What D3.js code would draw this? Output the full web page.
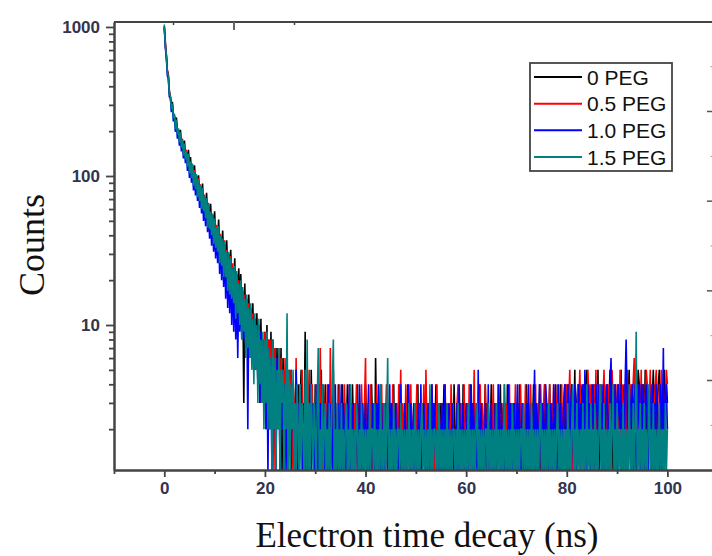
<!DOCTYPE html>
<html><head><meta charset="utf-8">
<script src="https://cdn.jsdelivr.net/npm/d3@7"></script>
<style>body{margin:0;background:#fff}svg{display:block}</style>
</head><body>
<svg id="chart" width="712" height="556"></svg>
<script>
// ---------------- data ----------------
const timeStepNs = 0.2; // channel width (ns); channel i is at time i*timeStepNs
const seriesNames = ["0 PEG", "0.5 PEG", "1.0 PEG", "1.5 PEG"];
const seriesColors = ["#000000", "#ff0000", "#0000ff", "#008080"];
const xMajorTicks = [0, 20, 40, 60, 80, 100];
const xMinorTicks = [-10, 10, 30, 50, 70, 90, 110];
const yMajorTicks = [10, 100, 1000];
const yMinorTicks = [2,3,4,5,6,7,8,9,20,30,40,50,60,70,80,90,200,300,400,500,600,700,800,900];

const counts0PEG = [
990,800,650,515,480,375,340,300,315,258,255,222,247,203,205,182,204,166,172,150,173,141,145,127,150,
114,134,107,118,96,118,89,100,82,101,76,84,70,89,63,72,59,77,54,64,50,65,47,55,42,
58,39,44,36,51,33,39,30,43,28,35,26,37,24,30,22,32,20,24,18,28,16,22,15,24,
13,22,12,17,3,19,10,15,9,16,8,13,7,14,6,11,6,12,5,10,3,11,4,8,4,
9,3,10,4,8,3,9,2,8,3,7,2,7,3,6,2,7,1,6,3,5,2,6,1,5,
3,5,2,4,1,3,5,1,4,2,3,5,1,3,2,9,1,4,2,3,1,5,2,3,1,
4,2,3,1,4,2,5,1,3,2,4,1,3,2,4,1,3,2,5,1,3,2,1,4,2,
3,1,4,2,1,3,2,4,1,3,2,1,4,2,3,1,2,4,1,3,2,1,3,2,1,
4,2,1,3,2,1,4,2,3,1,6,2,1,3,2,4,1,2,3,1,2,4,1,3,2,
1,3,2,4,1,2,3,1,2,4,1,3,2,1,3,2,1,4,2,1,3,2,1,2,3,
1,2,4,1,3,2,1,2,3,1,4,2,1,3,2,1,2,3,1,2,4,1,3,1,2,
3,1,2,4,1,3,2,1,2,3,1,2,1,4,2,1,3,2,1,3,2,1,4,1,2,
3,1,2,1,4,2,3,1,2,1,3,2,1,4,1,2,3,1,2,4,1,3,2,1,2,
4,1,2,3,1,2,1,3,2,4,1,2,3,1,2,1,4,2,1,3,2,1,3,2,1,
3,2,1,4,2,1,3,2,1,2,4,1,3,2,1,3,2,4,1,2,3,1,2,4,1,
3,2,1,4,2,3,1,2,4,1,3,2,1,3,4,1,2,3,1,4,2,1,3,2,4,
1,3,4,2,1,4,3,2,5,1,3,4,2,1,4,3,2,4,1,3,5,2,4,1,3,
4,2,1,4,3,2,5,1,3,4,2,1,4,3,2,4,1,3,5,2,4,1,3,4,2,
1,4,3,2,5,1,3,4,2,1,4,3,5,2,1,4,3,2,4,1,3,5,4,2,1,
4,3,2,5,1,4,3,2,4,1,3,5,2,4,1,3,4,5,2,1,4,3,5,2,4,
3];

const counts05PEG = [
1000,770,640,505,462,360,338,290,300,250,255,212,232,196,204,172,190,160,178,142,160,133,150,120,138,
108,122,100,118,90,110,85,100,76,97,70,88,63,80,60,75,55,69,48,66,46,58,43,54,38,
50,35,47,32,44,28,41,27,36,23,37,22,32,19,29,18,29,16,26,15,23,13,22,13,20,
11,19,9,17,10,16,7,15,8,14,7,13,6,12,5,11,5,9,4,10,4,9,3,8,3,
9,2,9,3,8,2,8,3,7,1,7,2,6,3,7,1,6,2,5,1,6,2,5,3,4,
2,5,1,4,3,1,6,2,3,1,4,2,5,1,3,2,4,1,3,5,2,1,4,2,3,
1,4,2,3,1,7,2,1,4,2,3,1,4,2,1,7,2,3,1,4,2,1,3,2,4,
1,3,2,1,4,2,3,1,2,4,1,3,2,1,3,2,4,1,2,3,1,4,2,1,3,
6,1,2,3,1,4,2,1,3,2,1,4,2,3,1,2,4,1,3,2,1,4,2,1,3,
2,1,4,2,1,3,2,1,4,2,5,1,3,2,1,4,2,1,3,2,4,1,2,3,1,
2,4,1,3,2,1,3,2,4,1,5,2,1,3,2,1,4,2,3,1,2,4,1,3,2,
1,3,2,1,4,2,1,3,2,1,4,2,3,1,2,1,3,4,1,2,3,1,2,4,1,
2,3,1,4,2,1,3,2,5,1,2,3,1,2,4,1,3,2,1,4,2,1,3,2,1,
3,2,4,1,2,3,1,4,2,1,3,2,1,4,2,3,1,2,4,1,3,2,1,2,4,
1,3,2,1,4,2,3,1,2,4,1,3,2,1,4,2,1,3,2,4,1,2,3,1,4,
2,1,3,4,2,1,3,2,4,1,3,2,4,1,2,3,4,1,3,2,4,1,3,4,2,
4,1,3,5,2,4,1,3,4,2,1,4,3,5,2,1,4,3,2,4,1,5,3,2,4,
1,3,4,2,5,1,4,3,2,4,1,3,5,2,4,1,3,4,2,1,5,3,4,2,1,
4,3,2,5,1,4,3,2,4,1,5,3,2,4,1,3,4,6,2,5,1,4,3,2,5,
1,4,3,2,5,4,1,3,5,2,4,1,3,4,5,2,1,4,3,5,2,4,1,3,5,
4];

const counts10PEG = [
1010,720,640,470,455,338,340,268,296,232,250,198,226,178,204,160,186,146,170,131,156,122,143,108,135,
97,121,90,113,80,104,74,98,68,90,61,84,56,77,50,71,46,66,42,60,38,55,34,51,31,
47,28,44,26,41,22,38,20,35,18,33,15,30,13,28,12,26,10,24,9,22,8,20,6,19,
9,17,8,16,8,15,7,14,2,13,6,12,6,11,5,11,5,9,4,10,3,9,4,8,3,
7,2,8,1,7,2,6,1,6,2,5,1,6,2,5,1,4,2,5,1,4,1,5,2,4,
3,1,4,2,3,1,5,2,1,3,2,4,1,3,2,1,4,3,1,2,4,1,3,2,1,
3,2,4,1,2,3,1,4,2,1,3,2,1,4,1,3,2,1,3,2,4,1,2,3,1,
2,4,1,3,2,1,3,1,2,4,1,2,3,1,2,1,3,2,1,4,2,1,3,1,2,
3,1,2,4,1,2,1,3,2,1,2,3,1,4,2,1,3,1,2,1,3,2,1,2,4,
1,3,2,1,2,3,1,2,1,3,4,1,2,1,3,2,1,2,4,1,3,1,2,3,1,
2,1,3,2,1,4,1,2,3,1,2,1,3,2,1,2,4,1,3,2,1,2,1,3,2,
1,3,1,2,4,1,2,3,1,2,1,3,2,1,2,1,3,1,4,2,1,2,3,1,2,
1,3,2,1,2,4,1,3,2,1,2,1,5,1,2,3,1,2,1,3,2,1,4,1,2,
3,1,2,1,3,2,1,4,2,1,3,1,2,3,1,2,1,4,1,3,2,1,2,3,1,
2,4,1,3,1,2,3,1,2,1,3,2,4,1,2,3,1,2,5,1,3,2,1,4,2,
1,3,2,1,4,3,1,2,1,3,2,1,4,2,3,1,2,4,1,3,1,2,3,4,1,
2,4,3,1,3,4,2,1,4,3,1,2,4,1,3,2,4,1,5,3,1,4,2,3,1,
3,4,1,2,4,3,1,4,2,3,1,4,2,1,3,4,2,1,4,6,2,3,1,4,3,
1,4,3,2,4,1,3,1,4,8,3,1,4,3,2,4,1,3,4,2,1,4,3,1,4,
2,4,1,3,4,2,1,4,3,1,4,2,3,1,4,3,2,1,4,3,2,7,1,3,4,
2];

const counts15PEG = [
1040,745,660,492,471,352,349,282,306,244,262,206,238,190,209,168,196,155,175,137,165,129,147,116,141,
104,125,97,121,86,108,82,103,72,95,68,86,60,83,58,73,52,71,45,65,44,57,40,56,35,
52,33,45,31,46,26,40,25,38,21,36,21,31,17,31,16,28,15,24,14,25,11,23,12,19,
10,20,8,18,9,15,6,16,7,13,6,14,5,11,4,12,5,10,3,11,4,8,3,9,2,
8,3,9,2,7,2,6,1,8,2,6,1,5,2,7,1,5,3,5,1,4,2,12,1,5,
1,4,2,5,1,3,1,4,2,1,4,1,3,2,1,5,1,8,1,3,1,4,2,1,3,
2,1,3,7,1,2,1,4,1,2,3,1,2,1,3,1,2,4,8,1,2,1,3,1,2,
1,3,1,2,1,2,3,1,2,1,4,1,2,1,2,1,3,2,1,2,1,3,1,2,1,
2,1,2,1,3,1,2,2,1,3,1,2,1,2,1,4,1,2,1,3,1,2,6,1,2,
1,2,1,3,1,2,1,2,2,1,3,1,2,1,2,1,2,1,3,1,2,1,2,1,3,
1,2,1,2,1,2,3,1,2,1,2,1,2,1,4,1,2,1,2,2,1,2,1,3,1,
2,1,2,1,2,1,3,1,2,1,2,1,2,2,1,2,1,3,1,2,1,2,1,2,1,
2,1,3,1,2,1,2,1,2,1,2,3,1,2,1,2,1,2,1,2,2,1,3,1,2,
1,2,1,2,1,3,1,2,1,2,1,2,1,4,1,2,1,2,1,2,1,3,1,2,1,
2,1,2,1,2,2,1,3,1,2,1,2,1,2,1,3,1,2,1,2,1,2,1,2,3,
1,2,1,2,1,2,1,3,1,2,1,2,1,2,1,2,3,1,2,1,2,1,2,1,2,
1,3,1,2,1,2,4,1,2,1,3,1,2,1,2,1,3,1,2,1,4,1,2,1,3,
1,2,1,3,1,2,1,2,4,1,2,1,3,1,2,1,2,1,3,1,2,4,1,2,1,
3,1,2,1,2,1,3,1,2,1,2,1,4,1,2,1,3,1,2,9,1,2,1,3,1,
2,1,3,1,2,1,2,4,1,2,1,3,1,2,1,2,1,3,1,2,1,2,1,3,1,
2];

const seriesData = [counts0PEG, counts05PEG, counts10PEG, counts15PEG];

// ---------------- drawing ----------------
const W = 712, H = 556;
const svg = d3.select("#chart");
const plot = {left: 114, top: 22, bottom: 470, right: 768};

const x = d3.scaleLinear().domain([-10, 120]).range([plot.left, plot.right]);
const y = d3.scaleLog().domain([1.064, 1080]).range([plot.bottom, plot.top]);

svg.append("defs").append("clipPath").attr("id", "clip")
  .append("rect").attr("x", plot.left).attr("y", plot.top)
  .attr("width", plot.right - plot.left).attr("height", plot.bottom - plot.top);

const line = d3.line()
  .x((d, i) => x(i * timeStepNs))
  .y(d => y(d));

const gData = svg.append("g").attr("clip-path", "url(#clip)");
seriesData.forEach((arr, k) => {
  gData.append("path")
    .datum(arr)
    .attr("d", line)
    .attr("fill", "none")
    .attr("stroke", seriesColors[k])
    .attr("stroke-width", 1.6)
    .attr("stroke-linejoin", "bevel");
});

const axisColor = "#444";
const labelColor = "#33334d";
const tickFont = "'Liberation Sans', Arial, sans-serif";

function styleAxis(g) {
  g.selectAll("path.domain").attr("stroke", axisColor).attr("stroke-width", 2);
  g.selectAll(".tick line").attr("stroke", axisColor).attr("stroke-width", 1.8);
  g.selectAll(".tick text").attr("fill", labelColor)
    .style("font-family", tickFont).style("font-size", "17px").style("font-weight", "bold");
}

// bottom axis
svg.append("g").attr("transform", `translate(0,${plot.bottom})`)
  .call(d3.axisBottom(x).tickValues(xMinorTicks).tickSize(4).tickSizeOuter(0).tickFormat(""))
  .call(styleAxis);
svg.append("g").attr("transform", `translate(0,${plot.bottom})`)
  .call(d3.axisBottom(x).tickValues(xMajorTicks).tickSize(7).tickSizeOuter(0).tickPadding(5).tickFormat(d3.format("d")))
  .call(styleAxis);

// left axis
svg.append("g").attr("transform", `translate(${plot.left},0)`)
  .call(d3.axisLeft(y).tickValues(yMinorTicks).tickSize(5).tickSizeOuter(0).tickFormat(""))
  .call(styleAxis);
svg.append("g").attr("transform", `translate(${plot.left},0)`)
  .call(d3.axisLeft(y).tickValues(yMajorTicks).tickSize(8).tickSizeOuter(0).tickPadding(6).tickFormat(d3.format("d")))
  .call(styleAxis);

// top frame line with the small ticks seen on it
svg.append("line").attr("x1", plot.left).attr("x2", W).attr("y1", plot.top).attr("y2", plot.top)
  .attr("stroke", axisColor).attr("stroke-width", 2);
const topScale = d3.scaleLinear().domain([0, 2]).range([173, 294]);
svg.append("g").attr("transform", `translate(0,${plot.top})`)
  .call(d3.axisBottom(topScale).tickValues([0, 2]).tickSize(3).tickFormat(""))
  .call(g => g.select(".domain").remove())
  .call(g => g.selectAll(".tick line").attr("stroke", axisColor).attr("stroke-width", 1.5));
svg.append("g").attr("transform", `translate(0,${plot.top})`)
  .call(d3.axisBottom(topScale).tickValues([1]).tickSize(8).tickFormat(""))
  .call(g => g.select(".domain").remove())
  .call(g => g.selectAll(".tick line").attr("stroke", "#666").attr("stroke-width", 2));

// decorative ticks of the neighbouring panel at the right edge
const rightScale = d3.scaleLinear().domain([0, 3]).range([380, 111]);
svg.append("g").attr("transform", `translate(${W},0)`)
  .call(d3.axisLeft(rightScale).tickValues([0, 1, 2, 3]).tickSize(5).tickFormat(""))
  .call(g => g.select(".domain").remove())
  .call(g => g.selectAll(".tick line").attr("stroke", "#555").attr("stroke-width", 1.5));
svg.append("g").attr("transform", `translate(${W},0)`)
  .call(d3.axisLeft(rightScale).tickValues([-0.5, 0.5, 1.5, 2.5, 3.5]).tickSize(1.5).tickFormat(""))
  .call(g => g.select(".domain").remove())
  .call(g => g.selectAll(".tick line").attr("stroke", "#999").attr("stroke-width", 1));

// axis titles
svg.append("text")
  .attr("transform", `translate(44,245) rotate(-90)`)
  .attr("text-anchor", "middle")
  .style("font-family", "'Liberation Serif', 'Times New Roman', serif")
  .style("font-size", "36px").attr("fill", "#111")
  .text("Counts");
svg.append("text")
  .attr("x", 427).attr("y", 547)
  .attr("text-anchor", "middle")
  .style("font-family", "'Liberation Serif', 'Times New Roman', serif")
  .style("font-size", "35px").attr("fill", "#111")
  .text("Electron time decay (ns)");

// legend
const legend = svg.append("g");
legend.append("rect").attr("x", 530).attr("y", 63).attr("width", 142).attr("height", 108)
  .attr("fill", "#fff").attr("stroke", axisColor).attr("stroke-width", 1.8);
const legendRowY = d3.scalePoint().domain(seriesNames).range([77, 157]);
seriesNames.forEach((name, k) => {
  const yy = legendRowY(name);
  legend.append("line").attr("x1", 534).attr("x2", 582).attr("y1", yy).attr("y2", yy)
    .attr("stroke", seriesColors[k]).attr("stroke-width", 2);
  legend.append("text").attr("x", 587).attr("y", yy + 7.5)
    .style("font-family", tickFont).style("font-size", "21px").attr("fill", "#111")
    .text(name);
});
</script>
</body></html>
